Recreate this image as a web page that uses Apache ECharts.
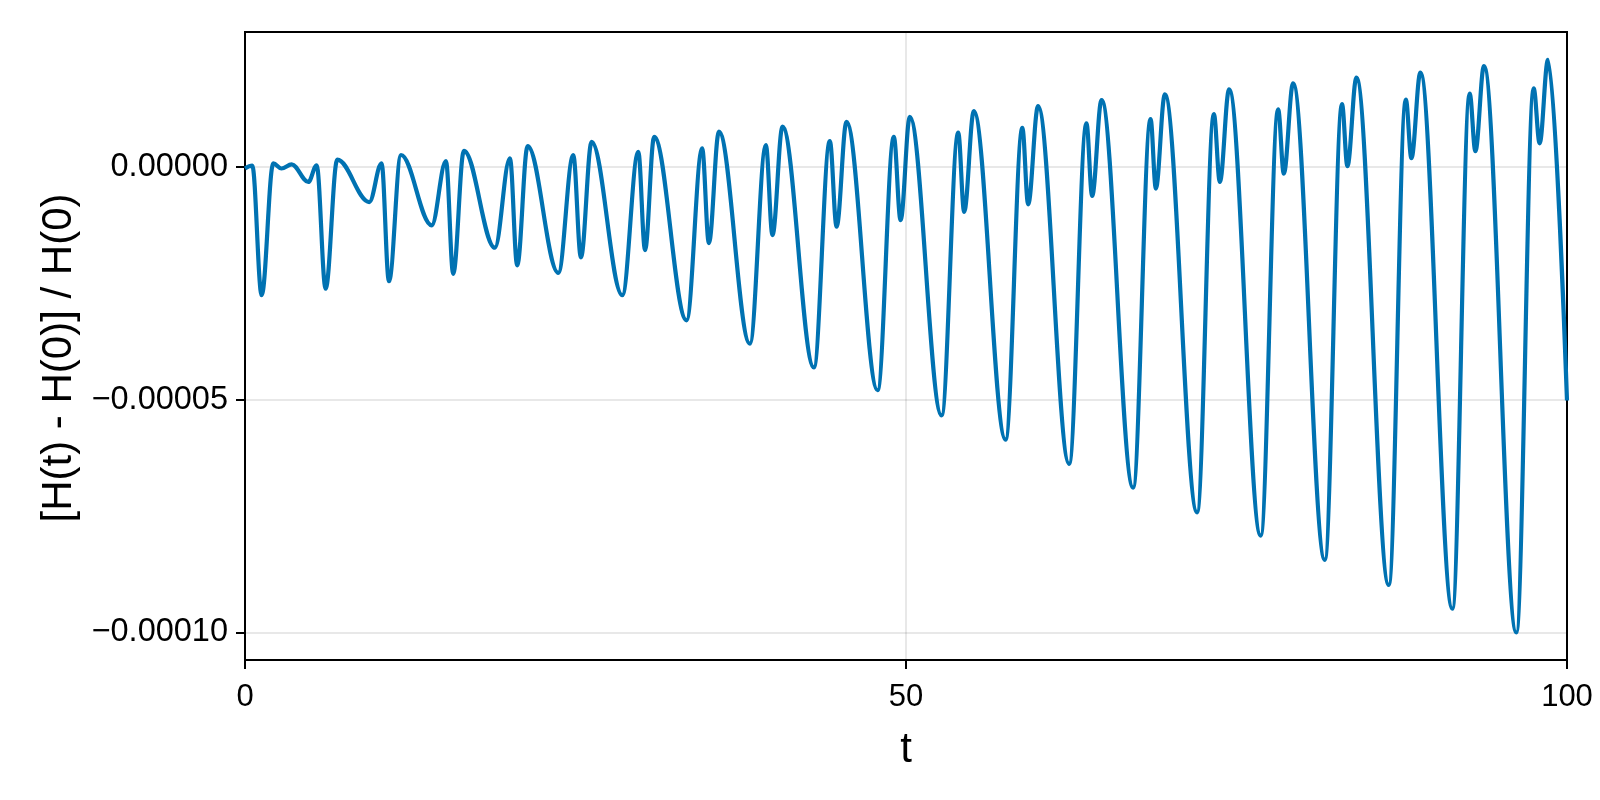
<!DOCTYPE html>
<html>
<head>
<meta charset="utf-8">
<script src="https://cdn.jsdelivr.net/npm/echarts@6/dist/echarts.min.js"></script>
<style>
html,body{margin:0;padding:0;background:#fff;}
#chart{width:1600px;height:800px;}
</style>
</head>
<body>
<div id="chart"></div>
<script>
// Time values (t) at the turning points of the curve
const tValues = [
  0, 0.55, 1.26, 2.14, 2.76, 3.53, 4.79, 5.42, 6.1, 6.98,
  9.4, 10.33, 10.89, 11.8, 14.12, 15.2, 15.75, 16.56, 18.9, 20.04,
  20.59, 21.38, 23.7, 24.83, 25.41, 26.22, 28.54, 29.75, 30.26, 30.95,
  33.4, 34.58, 35.09, 35.85, 38.19, 39.4, 39.9, 40.66, 43.03, 44.24,
  44.75, 45.5, 47.85, 49.08, 49.59, 50.29, 52.69, 53.95, 54.4, 55.13,
  57.53, 58.8, 59.24, 59.99, 62.34, 63.65, 64.08, 64.79, 67.18, 68.5,
  68.9, 69.58, 72.02, 73.29, 73.74, 74.44, 76.83, 78.15, 78.58, 79.28,
  81.68, 82.98, 83.39, 84.07, 86.52, 87.81, 88.23, 88.91, 91.33, 92.64,
  93.07, 93.72, 96.17, 97.48, 97.93, 98.56, 100
];
// Relative energy error [H(t) - H(0)] / H(0) at those points
const hValues = [
  -0.4e-6, 0.2e-6, -27.6e-6, 0.7e-6, -0.4e-6, 0.5e-6, -3.3e-6, 0.3e-6, -26.2e-6, 1.5e-6,
  -7.6e-6, 0.7e-6, -24.6e-6, 2.5e-6, -12.6e-6, 1.2e-6, -23.0e-6, 3.4e-6, -17.4e-6, 1.8e-6,
  -21.2e-6, 4.4e-6, -22.8e-6, 2.5e-6, -19.5e-6, 5.3e-6, -27.6e-6, 3.2e-6, -17.9e-6, 6.4e-6,
  -33.0e-6, 3.9e-6, -16.4e-6, 7.5e-6, -38.0e-6, 4.6e-6, -14.7e-6, 8.6e-6, -43.1e-6, 5.5e-6,
  -12.9e-6, 9.6e-6, -48.0e-6, 6.4e-6, -11.5e-6, 10.7e-6, -53.4e-6, 7.3e-6, -9.7e-6, 11.9e-6,
  -58.6e-6, 8.3e-6, -8.1e-6, 13.0e-6, -63.8e-6, 9.3e-6, -6.3e-6, 14.3e-6, -68.9e-6, 10.2e-6,
  -4.7e-6, 15.5e-6, -74.2e-6, 11.3e-6, -3.3e-6, 16.6e-6, -79.2e-6, 12.3e-6, -1.5e-6, 17.9e-6,
  -84.4e-6, 13.4e-6, 0.1e-6, 19.1e-6, -89.8e-6, 14.4e-6, 1.8e-6, 20.2e-6, -94.9e-6, 15.7e-6,
  3.3e-6, 21.6e-6, -100.0e-6, 16.8e-6, 5.0e-6, 22.9e-6, -50.2e-6
];
// Axis ticks
const xTickValues = [0, 50, 100];
const xTickLabels = ['0', '50', '100'];
const yTickValues = [-0.0001, -0.00005, 0];
const yTickLabels = ['\u22120.00010', '\u22120.00005', '0.00000'];
const xLabel = 't';
const yLabel = '[H(t) - H(0)] / H(0)';

const FONT = '"Liberation Sans", Arial, Helvetica, sans-serif';
const chart = echarts.init(document.getElementById('chart'), null, {renderer: 'canvas'});

const lineData = tValues.map((t, i) => [t, hValues[i]]);
const gridColor = 'rgba(0,0,0,0.12)';

function labelFor(values, labels, v) {
  for (let i = 0; i < values.length; i++) {
    if (Math.abs(values[i] - v) < 1e-9 * Math.max(1, Math.abs(values[i]))) return labels[i];
  }
  return '';
}

chart.setOption({
  animation: false,
  backgroundColor: '#fff',
  grid: {
    left: 245, right: 33, top: 32, bottom: 140,
    show: true, borderColor: '#000', borderWidth: 2, backgroundColor: 'transparent'
  },
  xAxis: {
    type: 'value', min: 0, max: 100, interval: 50,
    name: xLabel, nameLocation: 'middle', nameGap: 69,
    nameTextStyle: {fontFamily: FONT, fontSize: 42, color: '#000'},
    axisLine: {show: true, onZero: false, lineStyle: {color: '#000', width: 2}},
    axisTick: {show: true, inside: false, length: 9, lineStyle: {color: '#000', width: 2}, customValues: xTickValues},
    axisLabel: {
      show: true, margin: 22, fontFamily: FONT, fontSize: 31, color: '#000',
      customValues: xTickValues,
      formatter: v => labelFor(xTickValues, xTickLabels, v)
    },
    splitLine: {show: false}
  },
  yAxis: {
    type: 'value', min: -0.0001059, max: 0.0000289,
    name: yLabel, nameLocation: 'middle', nameGap: 163, nameRotate: 90,
    nameTextStyle: {fontFamily: FONT, fontSize: 42, color: '#000', padding: [0, 24, 0, 0]},
    axisLine: {show: true, onZero: false, lineStyle: {color: '#000', width: 2}},
    axisTick: {show: true, inside: false, length: 9, lineStyle: {color: '#000', width: 2}, customValues: yTickValues},
    axisLabel: {
      show: true, margin: 17, fontFamily: FONT, fontSize: 32.5, color: '#000',
      customValues: yTickValues,
      formatter: v => labelFor(yTickValues, yTickLabels, v)
    },
    splitLine: {show: true, lineStyle: {color: gridColor, width: 1.5}}
  },
  series: [
    {
      type: 'line',
      data: lineData,
      z: 3,
      showSymbol: false,
      smooth: 0.36,
      smoothMonotone: 'x',
      lineStyle: {color: '#0072B2', width: 4.2},
      itemStyle: {color: '#0072B2'},
      markLine: {
        silent: true,
        symbol: ['none', 'none'],
        label: {show: false},
        lineStyle: {color: gridColor, width: 1.5, type: 'solid'},
        emphasis: {disabled: true},
        data: xTickValues.filter(v => v > 0 && v < 100).map(v => ({xAxis: v}))
      }
    }
  ]
});
</script>
</body>
</html>
